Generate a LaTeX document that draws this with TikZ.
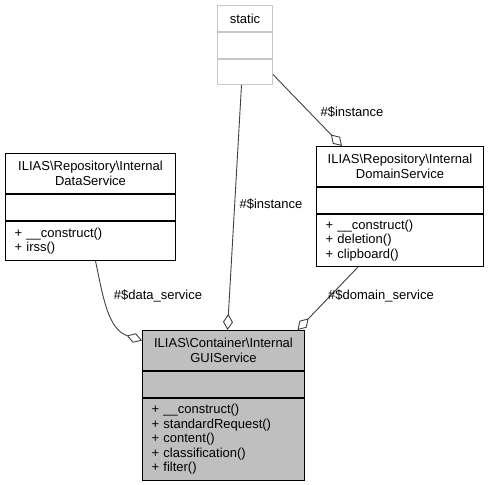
\documentclass[tikz,border=0pt]{standalone}
\usepackage{fontspec}
\setmainfont{Liberation Sans}
\usetikzlibrary{arrows.meta}
\usetikzlibrary{positioning}
\definecolor{edgegray}{rgb}{0.25, 0.25, 0.25}
\definecolor{boxgray}{rgb}{0.75, 0.75, 0.75}
\definecolor{staticgray}{rgb}{0.78, 0.78, 0.78}
\tikzset{part/.style = {draw, line width = 1, inner xsep = 5, inner ysep = 2,
    font = \fontsize{13}{14.5}\selectfont}}
\tikzset{head/.style = {part, align = center}}
\tikzset{body/.style = {part, align = left, inner xsep = 9}}
\tikzset{agg/.style = {draw = edgegray, line width = 0.9,
    -{Diamond[open, fill = white, length = 16, width = 10]}}}
\tikzset{lbl/.style = {inner sep = 0, font = \fontsize{13}{14.5}\selectfont}}

\begin{document}
\begin{tikzpicture}[x=1pt, y=-1pt]
    \useasboundingbox (0, 0) rectangle (491, 485);

    % static
    \node [head, draw = staticgray, text width = 45, minimum height = 26, anchor = north west]
      (staticT) at (217, 5) {static};
    \node [body, draw = staticgray, text width = 37, minimum height = 26, below = 0 of staticT] (staticA) {};
    \node [body, draw = staticgray, text width = 37, minimum height = 25, below = 0 of staticA] (staticM) {};

    % data service
    \node [head, text width = 160, minimum height = 40, anchor = north west]
      (dataT) at (5, 153) {ILIAS\textbackslash Repository\textbackslash Internal\\DataService};
    \node [body, text width = 152, minimum height = 26, below = 0 of dataT] (dataA) {};
    \node [body, text width = 152, minimum height = 39, below = 0 of dataA] (dataM)
      {+ \_\_construct()\\+ irss()};

    % domain service
    \node [head, text width = 157, minimum height = 40, anchor = north west]
      (domT) at (316, 146) {ILIAS\textbackslash Repository\textbackslash Internal\\DomainService};
    \node [body, text width = 149, minimum height = 26, below = 0 of domT] (domA) {};
    \node [body, text width = 149, minimum height = 52, below = 0 of domA] (domM)
      {+ \_\_construct()\\+ deletion()\\+ clipboard()};

    % gui service
    \node [head, fill = boxgray, text width = 152, minimum height = 40, anchor = north west]
      (guiT) at (142, 330) {ILIAS\textbackslash Container\textbackslash Internal\\GUIService};
    \node [body, fill = boxgray, text width = 144, minimum height = 26, below = 0 of guiT] (guiA) {};
    \node [body, fill = boxgray, text width = 144, minimum height = 82, below = 0 of guiA] (guiM)
      {+ \_\_construct()\\+ standardRequest()\\+ content()\\+ classification()\\+ filter()};

    \draw [agg] ([xshift = -3.5]staticM.south) -- ([xshift = 4]guiT.north);
    \draw [agg] ([yshift = -2.5]staticM.east) -- ([xshift = -58]domT.north);
    \draw [agg] ([xshift = 5]dataM.south) to [out = -78, in = 162] ([yshift = 10]guiT.west);
    \draw [agg] ([xshift = -42]domM.south) -- ([xshift = 74]guiT.north);

    \node [lbl] (instGui) at (271, 204) {\#\$instance};
    \node [lbl] (instDom) at (352, 112) {\#\$instance};
    \node [lbl] (dataLbl) at (158, 296) {\#\$data\_service};
    \node [lbl] (domLbl) at (381, 296) {\#\$domain\_service};
  \end{tikzpicture}
\end{document}
